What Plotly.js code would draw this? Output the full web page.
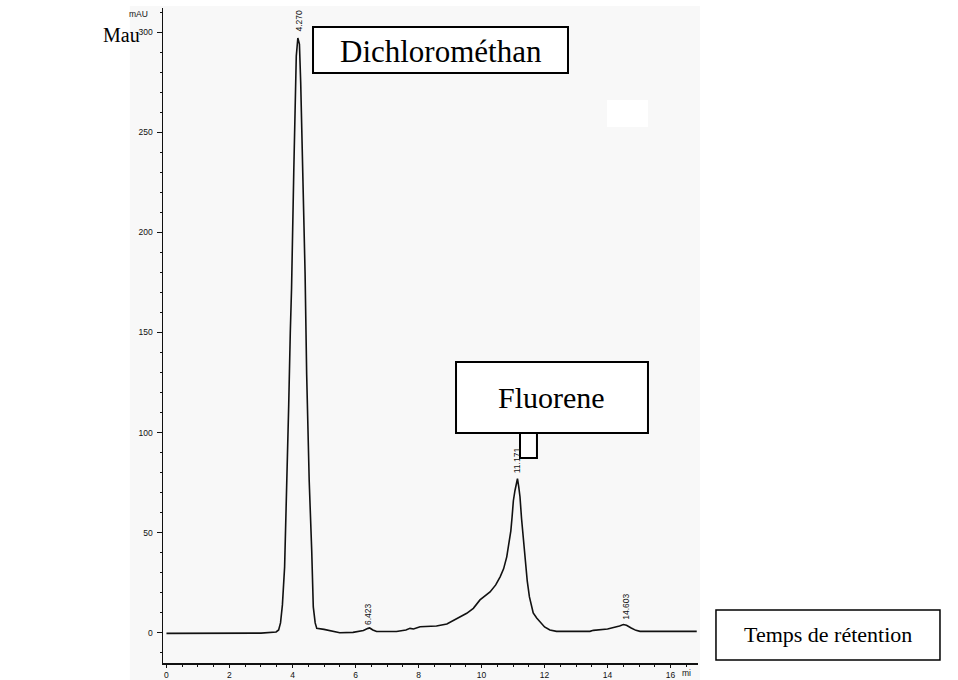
<!DOCTYPE html>
<html>
<head>
<meta charset="utf-8">
<script src="https://cdn.plot.ly/plotly-3.0.1.min.js"></script>
<style>html,body{margin:0;padding:0;background:#fff;}#chart{width:958px;height:680px;}</style>
</head>
<body>
<div id="chart"></div>
<script>
// Retention time (min)
var time = [0, 0.5, 1.0, 1.1, 2.0, 3.0, 3.48, 3.56, 3.62, 3.68, 3.75, 3.82, 3.88, 3.93, 3.97, 4.04, 4.12, 4.17, 4.22, 4.26, 4.29, 4.34, 4.40, 4.45, 4.53, 4.61, 4.66, 4.72, 4.77, 5.0, 5.5, 5.92, 6.25, 6.4, 6.45, 6.55, 6.67, 7.3, 7.6, 7.73, 7.84, 8.05, 8.57, 8.9, 9.1, 9.3, 9.53, 9.74, 9.95, 10.27, 10.45, 10.59, 10.7, 10.8, 10.88, 10.93, 10.97, 11.01, 11.06, 11.1, 11.14, 11.18, 11.22, 11.27, 11.33, 11.39, 11.45, 11.52, 11.59, 11.64, 11.75, 11.86, 12.0, 12.17, 12.38, 13.44, 13.55, 14.0, 14.18, 14.38, 14.5, 14.6, 14.75, 14.9, 15.03, 16.83];
// Absorbance (mAU)
var signal = [-0.2, -0.2, -0.2, 0, -0.1, -0.1, 0.5, 1.5, 5, 14, 33, 70, 114, 150, 172, 230, 288, 297, 294, 275, 255, 219, 179, 129, 76, 41, 13, 5, 2.3, 1.8, 0.1, 0.3, 1.2, 2.3, 2.5, 1.5, 0.7, 0.7, 1.5, 2.3, 2.0, 3.1, 3.5, 4.5, 6.1, 7.8, 9.8, 12.3, 16.5, 20.5, 24, 28, 32, 38, 45, 51, 58, 66, 71, 75, 77, 73, 68, 57, 46, 35, 26, 18, 13, 10, 7.5, 5.6, 3, 1.5, 0.8, 0.8, 1.3, 2, 2.6, 3.5, 4.2, 3.8, 2.5, 1.3, 0.8, 0.8];

// Peak labels
var peakLabels = ['4.270', '6.423', '11.171', '14.603'];
var peakTimes = [4.22, 6.40, 11.11, 14.56];
var peakHeights = [297, 2.5, 77, 4.2];

// Axis ticks
var xTickVals = [0, 2, 4, 6, 8, 10, 12, 14, 16];
var xTickText = ['0', '2', '4', '6', '8', '10', '12', '14', '16'];
var yTickVals = [0, 50, 100, 150, 200, 250, 300];
var yTickText = ['0', '50', '100', '150', '200', '250', '300'];

// Label texts
var yUnit = 'mAU';
var xUnit = 'mi';
var leftLabel = 'Mau';
var box1Text = 'Dichlorométhan';
var box2Text = 'Fluorene';
var box3Text = 'Temps de rétention';

var serif = 'Liberation Serif, Times New Roman, serif';
var sans = 'Liberation Sans, Arial, sans-serif';

var annotations = [];
for (var i = 0; i < peakLabels.length; i++) {
  annotations.push({
    x: peakTimes[i], y: peakHeights[i], xref: 'x', yref: 'y',
    text: peakLabels[i], showarrow: false, textangle: -90,
    xanchor: 'center', yanchor: 'middle', yshift: (i === 1 ? 14 : 18),
    font: {family: sans, size: 8.5, color: '#111'}
  });
}
annotations.push({x: -0.0243, y: 0.9908, xref: 'paper', yref: 'paper', text: yUnit, showarrow: false,
  xanchor: 'right', yanchor: 'middle', font: {family: sans, size: 8.5, color: '#111'}});
annotations.push({x: 16.49, y: -0.0153, xref: 'x', yref: 'paper', text: xUnit, showarrow: false,
  xanchor: 'center', yanchor: 'middle', font: {family: sans, size: 8.5, color: '#111'}});
annotations.push({x: -0.0785, y: 0.9588, xref: 'paper', yref: 'paper', text: leftLabel, showarrow: false,
  xanchor: 'center', yanchor: 'middle', font: {family: serif, size: 20, color: '#000'}});
annotations.push({x: 0.519, y: 0.934, xref: 'paper', yref: 'paper', text: box1Text, showarrow: false,
  xanchor: 'center', yanchor: 'middle', font: {family: serif, size: 31, color: '#000'}});
annotations.push({x: 0.727, y: 0.406, xref: 'paper', yref: 'paper', text: box2Text, showarrow: false,
  xanchor: 'center', yanchor: 'middle', font: {family: serif, size: 30, color: '#000'}});
annotations.push({x: 1.243, y: 0.043, xref: 'paper', yref: 'paper', text: box3Text, showarrow: false,
  xanchor: 'center', yanchor: 'middle', font: {family: serif, size: 22, color: '#000'}});

var shapes = [
  // scanned grey page background
  {type: 'rect', xref: 'paper', yref: 'paper', x0: -0.062, x1: 1.0037, y0: -0.03, y1: 1.003,
   fillcolor: '#f8f8f8', line: {width: 0}, layer: 'below'},
  // white patch
  {type: 'rect', xref: 'paper', yref: 'paper', x0: 0.830, x1: 0.9065, y0: 0.8183, y1: 0.8595,
   fillcolor: '#ffffff', line: {width: 0}, layer: 'below'},
  // Dichloromethane box
  {type: 'rect', xref: 'paper', yref: 'paper', x0: 0.2804, x1: 0.757, y0: 0.9008, y1: 0.971,
   fillcolor: '#ffffff', line: {color: '#000', width: 2}, layer: 'above'},
  // Fluorene box
  {type: 'rect', xref: 'paper', yref: 'paper', x0: 0.5477, x1: 0.9065, y0: 0.3511, y1: 0.4595,
   fillcolor: '#ffffff', line: {color: '#000', width: 2}, layer: 'above'},
  // connector tab
  {type: 'rect', xref: 'paper', yref: 'paper', x0: 0.6673, x1: 0.699, y0: 0.313, y1: 0.3511,
   fillcolor: '#ffffff', line: {color: '#000', width: 2}, layer: 'above'},
  // Temps de retention box
  {type: 'rect', xref: 'paper', yref: 'paper', x0: 1.0336, x1: 1.4523, y0: 0.0046, y1: 0.0809,
   fillcolor: '#ffffff', line: {color: '#000', width: 1.5}, layer: 'above'}
];

var trace = {
  x: time, y: signal, type: 'scatter', mode: 'lines',
  line: {color: '#111', width: 1.6}, hoverinfo: 'skip', showlegend: false
};

var layout = {
  width: 958, height: 680,
  margin: {l: 163, r: 260, t: 8, b: 17, pad: 0},
  paper_bgcolor: '#ffffff', plot_bgcolor: 'rgba(0,0,0,0)',
  showlegend: false,
  xaxis: {
    range: [-0.11, 16.87], showgrid: false, zeroline: false,
    showline: true, linecolor: '#111', linewidth: 1.5,
    ticks: 'outside', ticklen: 3, tickwidth: 1, tickcolor: '#111',
    tickvals: xTickVals, ticktext: xTickText,
    minor: {dtick: 0.5, ticks: 'outside', ticklen: 2, tickcolor: '#111', showgrid: false},
    tickfont: {family: sans, size: 8.5, color: '#111'}
  },
  yaxis: {
    range: [-15, 312], showgrid: false, zeroline: false,
    showline: true, linecolor: '#111', linewidth: 1.5,
    ticks: 'outside', ticklen: 5, tickwidth: 1, tickcolor: '#111',
    ticklabelstandoff: 2,
    tickvals: yTickVals, ticktext: yTickText,
    minor: {dtick: 10, ticks: 'outside', ticklen: 2, tickcolor: '#111', showgrid: false},
    tickfont: {family: sans, size: 8.5, color: '#111'}
  },
  annotations: annotations,
  shapes: shapes
};

Plotly.newPlot('chart', [trace], layout, {displayModeBar: false, staticPlot: true});
</script>
</body>
</html>
